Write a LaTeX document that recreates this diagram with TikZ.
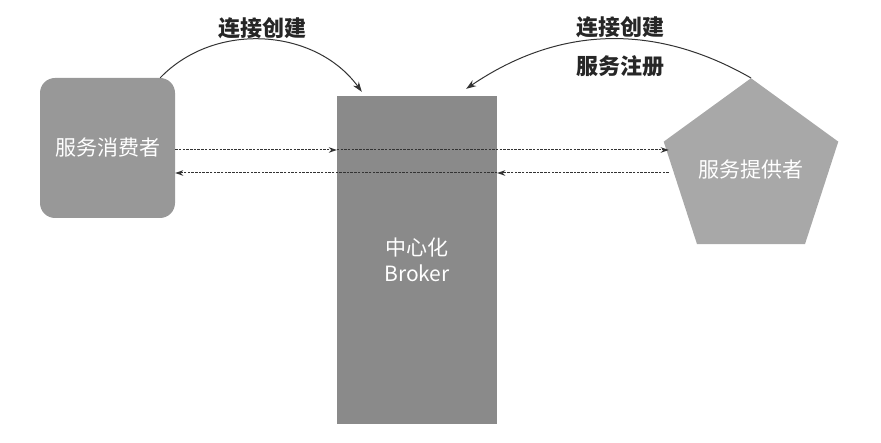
\documentclass[tikz,border=0pt]{standalone}
\usepackage{fontspec}
\newfontfamily\cjk{Noto Sans CJK SC}
\definecolor{boxA}{RGB}{152, 152, 152}
\definecolor{boxB}{RGB}{138, 138, 138}
\definecolor{boxC}{RGB}{168, 168, 168}
\usepackage{tikz}
\usetikzlibrary{shapes.geometric, arrows.meta, positioning, calc}

\begin{document}
\begin{tikzpicture}[x=1pt, y=1pt,
        every node/.style={font=\cjk\fontsize{21}{26}\selectfont},
        flow/.style={-{Stealth[length=8pt, width=5.5pt]}, dash pattern=on 2.5pt off 1.2pt, line width=1pt, black!80},
        link/.style={-{Stealth[length=10pt, width=7pt]}, line width=1pt, black!80}]
                \useasboundingbox (0,0) rectangle (881,442);

                % Three parties
                \node[fill=boxA, rounded corners=15pt, minimum width=135pt, minimum height=140pt,
                      inner sep=0pt, text=white] (consumer) at (107.5,294) {服务消费者};
                \node[fill=boxB, minimum width=160pt, minimum height=328pt, inner sep=0pt,
                      text=white, align=center] (broker) at (417,182) {中心化\\Broker};
                \node[fill=boxC, regular polygon, regular polygon sides=5, minimum size=170pt,
                      inner sep=0pt, text=white] (provider) at (751,272) {服务提供者};

                % Heights of the request lines
                \coordinate (upper) at (0,292);
                \coordinate (lower) at (0,269);

                % Dashed request / reply arrows
                \draw[flow] (consumer.east |- upper) -- (broker.west |- upper);
                \draw[flow] (broker.west |- upper) -- ([xshift=-4pt]provider.west |- upper);
                \draw[flow] ([xshift=-4pt]provider.west |- lower) -- (broker.east |- lower);
                \draw[flow] (broker.east |- lower) -- (consumer.east |- lower);

                % Connection arcs over the top
                \draw[link] ([xshift=-15pt]consumer.north east)
                    to[bend left=50] ([xshift=25pt, yshift=4pt]broker.north west);
                \draw[link] (provider.corner 1)
                    to[bend right=32] ([xshift=-31pt, yshift=7pt]broker.north east);

                % Arc labels
                \node[font=\cjk\bfseries\fontsize{22}{26}\selectfont, text=black!85] (createA) at (262,414) {连接创建};
                \node[font=\cjk\bfseries\fontsize{22}{26}\selectfont, text=black!85] (createB) at (620,415) {连接创建};
                \node[font=\cjk\bfseries\fontsize{22}{26}\selectfont, text=black!85] (register) at (620,376) {服务注册};
\end{tikzpicture}
\end{document}
